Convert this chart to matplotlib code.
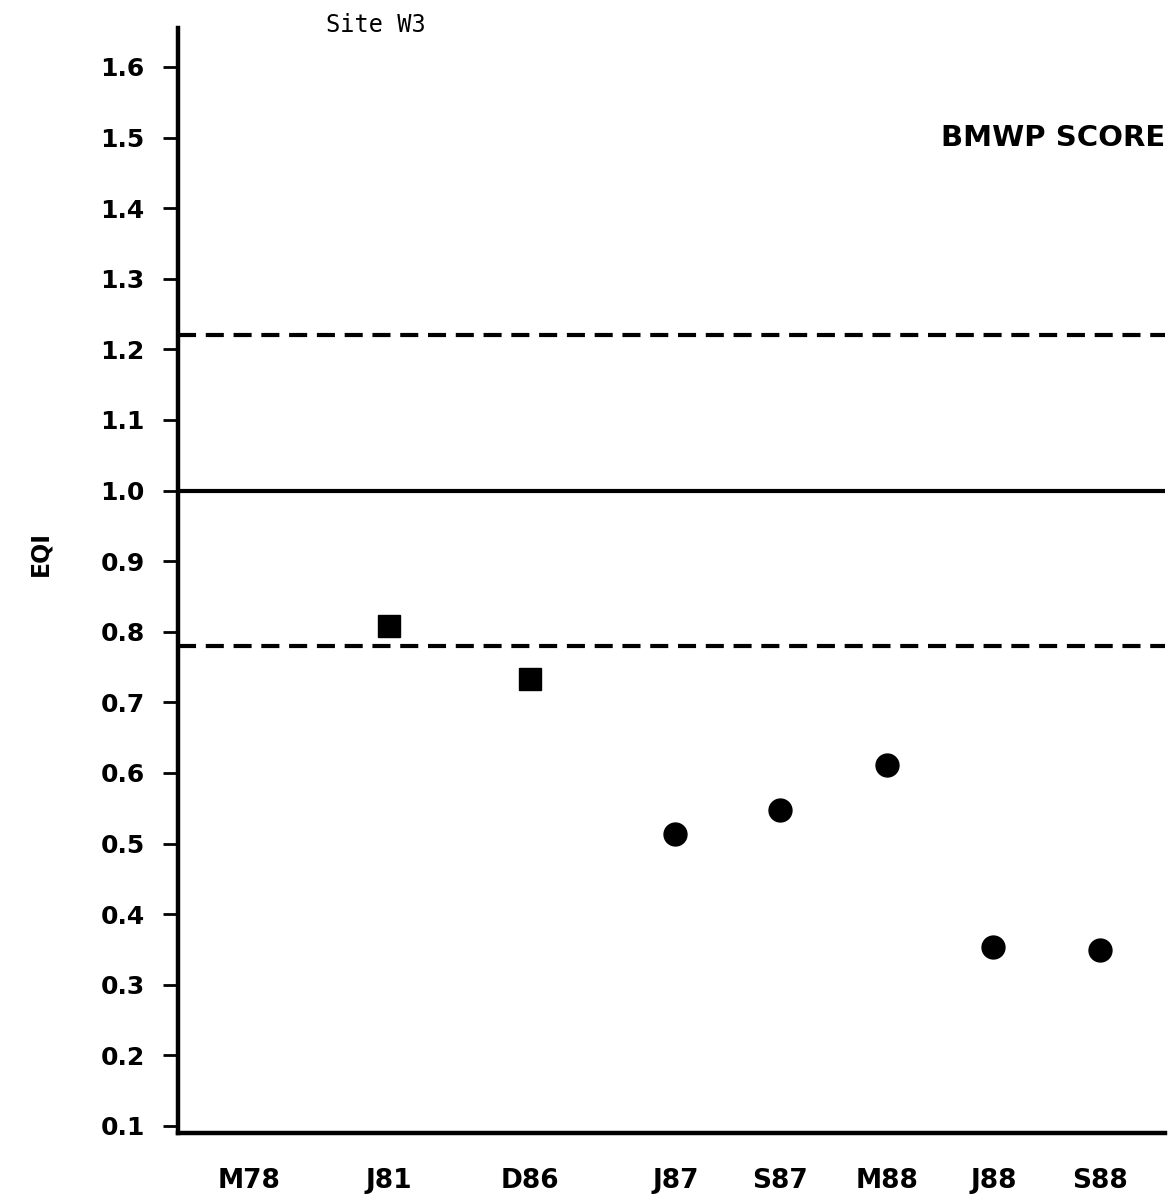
import matplotlib
matplotlib.use("Agg")
import matplotlib.pyplot as plt
import numpy as np

# data
samples = ["M78", "J81", "D86", "J87", "S87", "M88", "J88", "S88"]
square_eqi = [np.nan, 0.808, 0.733, np.nan, np.nan, np.nan, np.nan, np.nan]
circle_eqi = [np.nan, np.nan, np.nan, 0.514, 0.548, 0.611, 0.354, 0.349]
band_upper = 1.22
band_ref = 1.0
band_lower = 0.78
yticks = [0.1, 0.2, 0.3, 0.4, 0.5, 0.6, 0.7, 0.8, 0.9, 1.0, 1.1, 1.2, 1.3, 1.4, 1.5, 1.6]

# layout (uneven spacing of sampling dates along the axis)
xpos = [0.072, 0.214, 0.357, 0.504, 0.610, 0.718, 0.826, 0.934]

plt.rcParams['lines.scale_dashes'] = False

fig = plt.figure(figsize=(11.69, 12), dpi=100)
ax = fig.add_axes([0.1523, 0.0558, 0.8443, 0.9208])

ax.axhline(band_upper, color="black", lw=3, dashes=(13, 7))
ax.axhline(band_ref, color="black", lw=3)
ax.axhline(band_lower, color="black", lw=3, dashes=(13, 7))

ax.plot(xpos, square_eqi, ls="none", marker="s", ms=15.5, color="black")
ax.plot(xpos, circle_eqi, ls="none", marker="o", ms=16.5, color="black")

ax.set_xlim(0, 1)
ax.set_ylim(0.09, 1.655)
ax.set_yticks(yticks)
ax.set_yticklabels([f"{v:.1f}" for v in yticks], fontsize=18, fontweight="bold")
ax.set_xticks(xpos)
ax.set_xticklabels(samples, fontsize=19, fontweight="bold")

ax.tick_params(axis="y", direction="out", length=11, width=2, pad=13)
ax.tick_params(axis="x", length=0, pad=25)

for s in ["top", "right"]:
    ax.spines[s].set_visible(False)
ax.spines["left"].set_linewidth(3.2)
ax.spines["bottom"].set_linewidth(3.2)

fig.text(376/1169, 1-25/1200, "Site W3", family="DejaVu Sans Mono", fontsize=17,
         ha="center", va="center")
fig.text(1165/1169, 1-138/1200, "BMWP SCORE", fontsize=21, fontweight="bold",
         ha="right", va="center")
fig.text(40/1169, 1-553/1200, "EQI", fontsize=17, fontweight="bold", rotation=90,
         ha="center", va="center")

fig.savefig("out.png", dpi=100)
